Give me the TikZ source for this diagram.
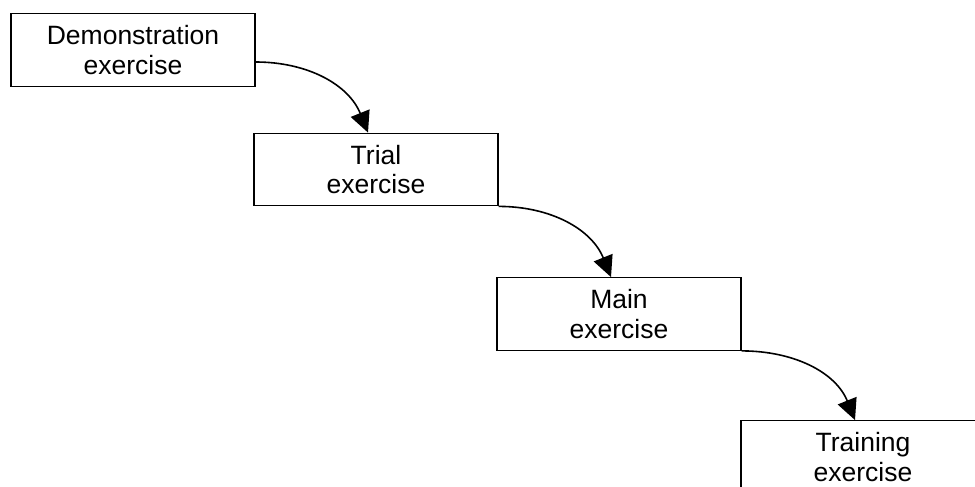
\documentclass[tikz,border=0pt]{standalone}
\usepackage{fontspec}
\setmainfont{Liberation Sans}
\usetikzlibrary{arrows.meta}
\begin{document}
\begin{tikzpicture}[x=1pt,y=-1pt,
  stagebox/.style={draw, line width=1.3pt, rectangle, minimum width=244pt, minimum height=72.5pt,
    inner sep=0pt, align=center, font=\fontsize{26.5}{29.5}\selectfont},
  flowarrow/.style={line width=1.6pt, -{Triangle[length=21pt,width=20pt]}}]
\clip (0,0) rectangle (975,487);
\useasboundingbox (0,0) rectangle (975,487);
\node[stagebox] (demo) at (133,50) {Demonstration\\exercise};
\node[stagebox] (trial) at (376,169.5) {Trial\\exercise};
\node[stagebox] (main) at (619,314) {Main\\exercise};
\node[stagebox] (train) at (863,457) {Training\\exercise};
\draw[flowarrow] ([yshift=-12pt]demo.east) to[out=0,in=112] ([xshift=-8pt]trial.north);
\draw[flowarrow] (trial.south east) to[out=0,in=112] ([xshift=-8pt]main.north);
\draw[flowarrow] (main.south east) to[out=0,in=112] ([xshift=-8pt]train.north);
\end{tikzpicture}
\end{document}
